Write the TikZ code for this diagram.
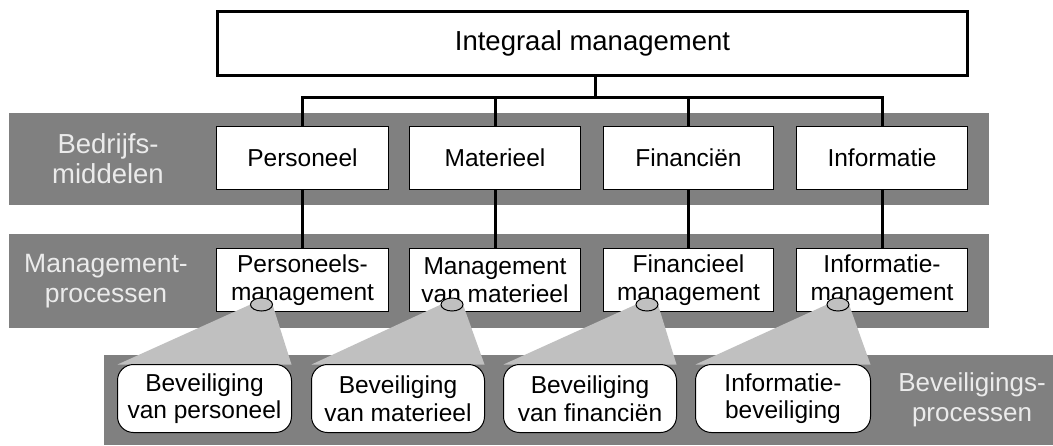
\documentclass[tikz,border=0pt]{standalone}
\usepackage{fontspec}
\setmainfont{Liberation Sans}
\usetikzlibrary{shapes.geometric}

\definecolor{bandgray}{HTML}{808080}
\definecolor{funnelgray}{HTML}{C0C0C0}
\definecolor{labeltxt}{HTML}{EBEBEB}

\pgfdeclarelayer{bg}
\pgfdeclarelayer{funnel}
\pgfdeclarelayer{front}
\pgfsetlayers{bg,main,funnel,front}

\begin{document}
\begin{tikzpicture}[x=1pt,y=-1pt,
  topbox/.style={draw, line width=3pt, fill=white, inner sep=0pt, outer sep=0pt,
    minimum width=750pt, minimum height=64pt, font=\fontsize{27.5}{31}\selectfont},
  resbox/.style={draw, line width=1pt, fill=white, inner sep=0pt, outer sep=0pt,
    minimum height=63pt, align=center, font=\fontsize{24.5}{27.5}\selectfont},
  secbox/.style={draw, line width=1pt, fill=white, inner sep=0pt, outer sep=0pt,
    rounded corners=16pt, minimum height=68pt, align=center,
    font=\fontsize{24.5}{27.5}\selectfont},
  lens/.style={ellipse, draw, line width=1pt, fill=funnelgray, inner sep=0pt,
    outer sep=0pt, minimum width=22pt, minimum height=13pt},
  bandlabel/.style={text=labeltxt, align=center, inner sep=0pt},
  conn/.style={line width=3pt, line join=miter},
  fan/.style={fill=funnelgray, draw=none}
]
\useasboundingbox (0,0) rectangle (1053,445);

% grey bands behind the rows
\begin{pgfonlayer}{bg}
  \fill[bandgray] (9,113) rectangle (989,205);
  \fill[bandgray] (9,234) rectangle (989,328);
  \fill[bandgray] (104,355) rectangle (1053,445);
\end{pgfonlayer}

% band captions
\node[bandlabel, font=\fontsize{27.5}{30}\selectfont] (capres) at (108,159) {Bedrijfs-\\middelen};
\node[bandlabel, font=\fontsize{26.5}{30}\selectfont] (capman) at (106,281) {Management-\\processen};
\node[bandlabel, font=\fontsize{26}{29.5}\selectfont] (capsec) at (972,400) {Beveiligings-\\processen};

% top box
\node[topbox] (top) at (592.5,43.5) {Integraal management};

% resources
\node[resbox, minimum width=172pt] (r1a) at (302.5,158) {Personeel};
\node[resbox, minimum width=171pt] (r1b) at (495,158) {Materieel};
\node[resbox, minimum width=170pt] (r1c) at (688.5,158) {Financiën};
\node[resbox, minimum width=171pt] (r1d) at (882,158) {Informatie};

% management processes
\node[resbox, minimum width=172pt] (r2a) at (302.5,280) {Personeels-\\management};
\node[resbox, minimum width=171pt] (r2b) at (495,280) {Management\\van materieel};
\node[resbox, minimum width=170pt] (r2c) at (688.5,280) {Financieel\\management};
\node[resbox, minimum width=171pt] (r2d) at (882,280) {Informatie-\\management};

% tree from the top box to the resources
\coordinate (bus) at (595,97);
\draw[conn] (top.south -| bus) -- (bus);
\draw[conn] (r1a.north) |- (bus) -| (r1d.north);
\draw[conn] (r1b.north) -- (r1b.north |- bus);
\draw[conn] (r1c.north) -- (r1c.north |- bus);

% resources to their management processes
\draw[conn] (r1a.south) -- (r2a.north);
\draw[conn] (r1b.south) -- (r2b.north);
\draw[conn] (r1c.south) -- (r2c.north);
\draw[conn] (r1d.south) -- (r2d.north);

% security processes and the lenses they open from
\begin{pgfonlayer}{front}
  \node[lens] (la) at (261.5,304.5) {};
  \node[lens] (lb) at (452,304.5) {};
  \node[lens] (lc) at (647,304.5) {};
  \node[lens] (ld) at (838,304.5) {};
  \node[secbox, minimum width=174pt] (sa) at (204.5,398.5) {Beveiliging\\van personeel};
  \node[secbox, minimum width=173pt] (sb) at (398,398.5) {Beveiliging\\van materieel};
  \node[secbox, minimum width=173pt] (sc) at (590,398.5) {Beveiliging\\van financiën};
  \node[secbox, minimum width=175pt] (sd) at (783,398.5) {Informatie-\\beveiliging};
\end{pgfonlayer}

% light fans from each lens down to its security process
\begin{pgfonlayer}{funnel}
  \fill[fan] (la.west) -- (la.east) -- (sa.north east) -- (sa.north west) -- cycle;
  \fill[fan] (lb.west) -- (lb.east) -- (sb.north east) -- (sb.north west) -- cycle;
  \fill[fan] (lc.west) -- (lc.east) -- (sc.north east) -- (sc.north west) -- cycle;
  \fill[fan] (ld.west) -- (ld.east) -- (sd.north east) -- (sd.north west) -- cycle;
\end{pgfonlayer}
\end{tikzpicture}
\end{document}
